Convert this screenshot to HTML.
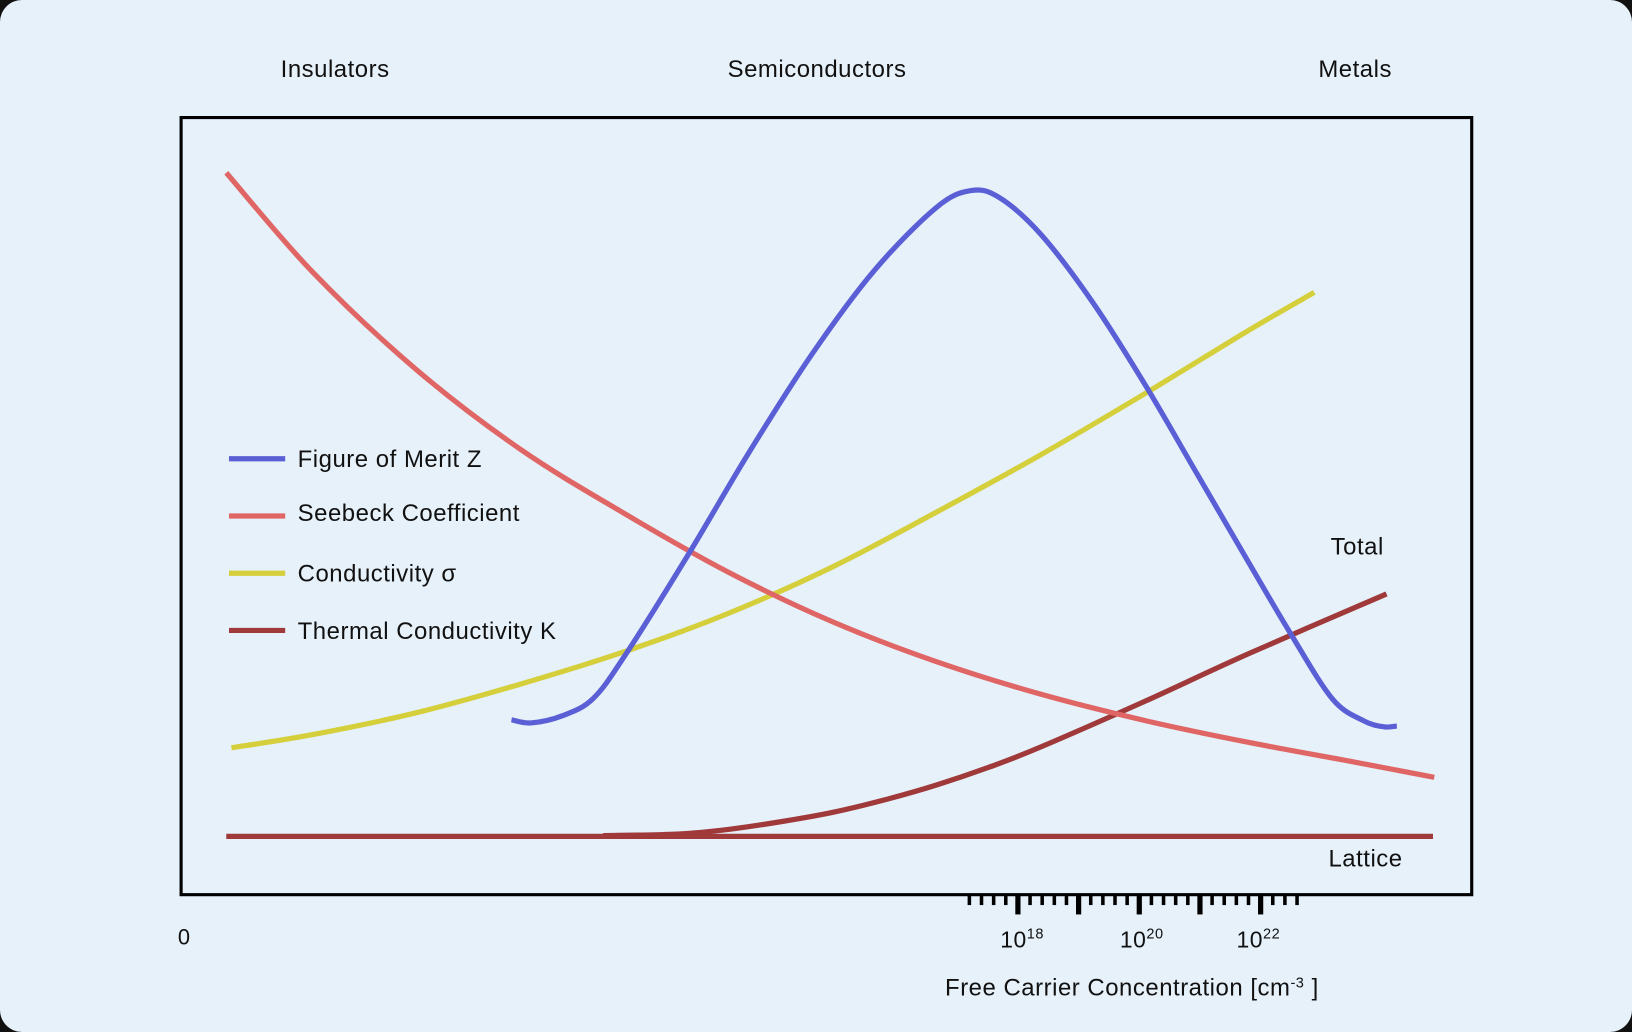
<!DOCTYPE html>
<html><head><meta charset="utf-8"><style>
html,body{margin:0;padding:0;background:#111;}
#card{position:absolute;left:0;top:0;width:1632px;height:1032px;background:#E6F1FA;border-radius:22px;overflow:hidden;}
svg{position:absolute;left:0;top:0;}
text{font-family:"Liberation Sans",sans-serif;fill:#111;letter-spacing:0.5px;}
</style></head><body>
<div id="card">
<svg id="chart" width="1632" height="1032" viewBox="0 0 1568 992" preserveAspectRatio="none">
<text x="322" y="74" font-size="23" text-anchor="middle">Insulators</text>
<text x="785" y="74" font-size="23" text-anchor="middle">Semiconductors</text>
<text x="1302" y="74" font-size="23" text-anchor="middle">Metals</text>
<rect x="174" y="113" width="1240" height="747" fill="none" stroke="#000" stroke-width="3"/>
<g id="curves"></g>
<g id="ticks"></g>
<text x="1304" y="533" font-size="23" text-anchor="middle">Total</text>
<text x="1312" y="833" font-size="23" text-anchor="middle">Lattice</text>
<text x="177" y="908" font-size="21" text-anchor="middle">0</text>
<text x="961" y="911" font-size="22">10<tspan dy="-9" font-size="14">18</tspan></text>
<text x="1076" y="911" font-size="22">10<tspan dy="-9" font-size="14">20</tspan></text>
<text x="1188" y="911" font-size="22">10<tspan dy="-9" font-size="14">22</tspan></text>
<text x="908" y="957" font-size="23">Free Carrier Concentration [cm<tspan dy="-8" font-size="14">-3</tspan><tspan dy="8"> ]</tspan></text>
<g>
<line x1="220" y1="441" x2="274" y2="441" stroke="#5B5FD6" stroke-width="5"/>
<text x="286" y="449" font-size="23">Figure of Merit Z</text>
<line x1="220" y1="496" x2="274" y2="496" stroke="#E06666" stroke-width="5"/>
<text x="286" y="501" font-size="23">Seebeck Coefficient</text>
<line x1="220" y1="551" x2="274" y2="551" stroke="#D4CF3A" stroke-width="5"/>
<text x="286" y="559" font-size="23">Conductivity σ</text>
<line x1="220" y1="606" x2="274" y2="606" stroke="#A0393A" stroke-width="5"/>
<text x="286" y="614" font-size="23">Thermal Conductivity K</text>
</g>
</svg>
</div>
<script>
const seebeckX=[3.5,10.2,18.2,26.3,34.4,42.4,50.5,58.5,66.6,74.7,82.7,90.8,97.1];
const seebeckY=[92.9,80.1,67.6,57.3,49.0,41.5,35.1,30.0,25.8,22.4,19.6,17.1,15.1];
const condX=[3.9,10.2,18.2,26.3,34.4,42.4,50.5,58.5,66.6,74.7,82.7,87.8];
const condY=[18.9,20.6,23.4,27.1,31.3,36.2,42.2,49.2,56.6,64.5,72.6,77.5];
const meritX=[25.6,27.1,29.5,31.9,34.4,39.2,44.0,48.9,53.7,58.5,61.2,63.4,66.6,70.6,74.7,78.7,82.7,86.0,89.2,91.6,93.2,94.2];
const meritY=[22.5,22.1,23.0,25.2,30.8,43.5,56.9,69.6,80.3,88.4,90.6,89.7,85.0,76.3,65.6,54.2,42.8,33.5,25.2,22.4,21.6,21.7];
const totalX=[32.7,38.4,42.4,46.5,50.5,54.5,58.5,62.6,66.6,74.7,82.7,93.4];
const totalY=[7.6,7.8,8.4,9.4,10.6,12.2,14.1,16.4,19.0,24.9,31.0,38.7];
const latticeX=[3.5,97.0];
const latticeY=[7.5,7.5];
const tickDecades=[18,20,22];
const NS="http://www.w3.org/2000/svg";
function sx(v){return 174+v*12.4;}
function sy(v){return 860-v*7.47;}
function decadeX(d){return 978+(d-18)*58.3;}
function pathFor(xs,ys){
  const p=xs.map((x,i)=>[sx(x),sy(ys[i])]);
  if(p.length<3) return "M"+p.map(q=>q.join(",")).join(" L");
  let d="M"+p[0][0]+","+p[0][1];
  for(let i=0;i<p.length-1;i++){
    const p0=p[i-1]||p[i],p1=p[i],p2=p[i+1],p3=p[i+2]||p2;
    const c1=[p1[0]+(p2[0]-p0[0])/6,p1[1]+(p2[1]-p0[1])/6];
    const c2=[p2[0]-(p3[0]-p1[0])/6,p2[1]-(p3[1]-p1[1])/6];
    d+=` C${c1[0]},${c1[1]} ${c2[0]},${c2[1]} ${p2[0]},${p2[1]}`;
  }
  return d;
}
const g=document.getElementById("curves");
function addCurve(xs,ys,color,name){
  const el=document.createElementNS(NS,"path");
  el.setAttribute("d",pathFor(xs,ys));
  el.setAttribute("fill","none");el.setAttribute("stroke",color);el.setAttribute("stroke-width","5");
  
  
  g.appendChild(el);
}
addCurve(latticeX,latticeY,"#A0393A","lattice-thermal-line");
addCurve(totalX,totalY,"#A0393A","total-thermal-line");
addCurve(condX,condY,"#D4CF3A","conductivity-line");
addCurve(seebeckX,seebeckY,"#E06666","seebeck-line");
addCurve(meritX,meritY,"#5B5FD6","figure-of-merit-line");
const tg=document.getElementById("ticks");
for(let k=-4;k<=23;k++){
  const d=18+k/5;
  const isMajor=(k%5===0);
  const x=decadeX(d);
  const el=document.createElementNS(NS,"rect");
  el.setAttribute("x",x-(isMajor?2.5:1.7));el.setAttribute("y",860);
  el.setAttribute("width",isMajor?5:3.4);el.setAttribute("height",isMajor?19:10);
  el.setAttribute("fill","#000");
  
  
  tg.appendChild(el);
}
</script>
</body></html>
